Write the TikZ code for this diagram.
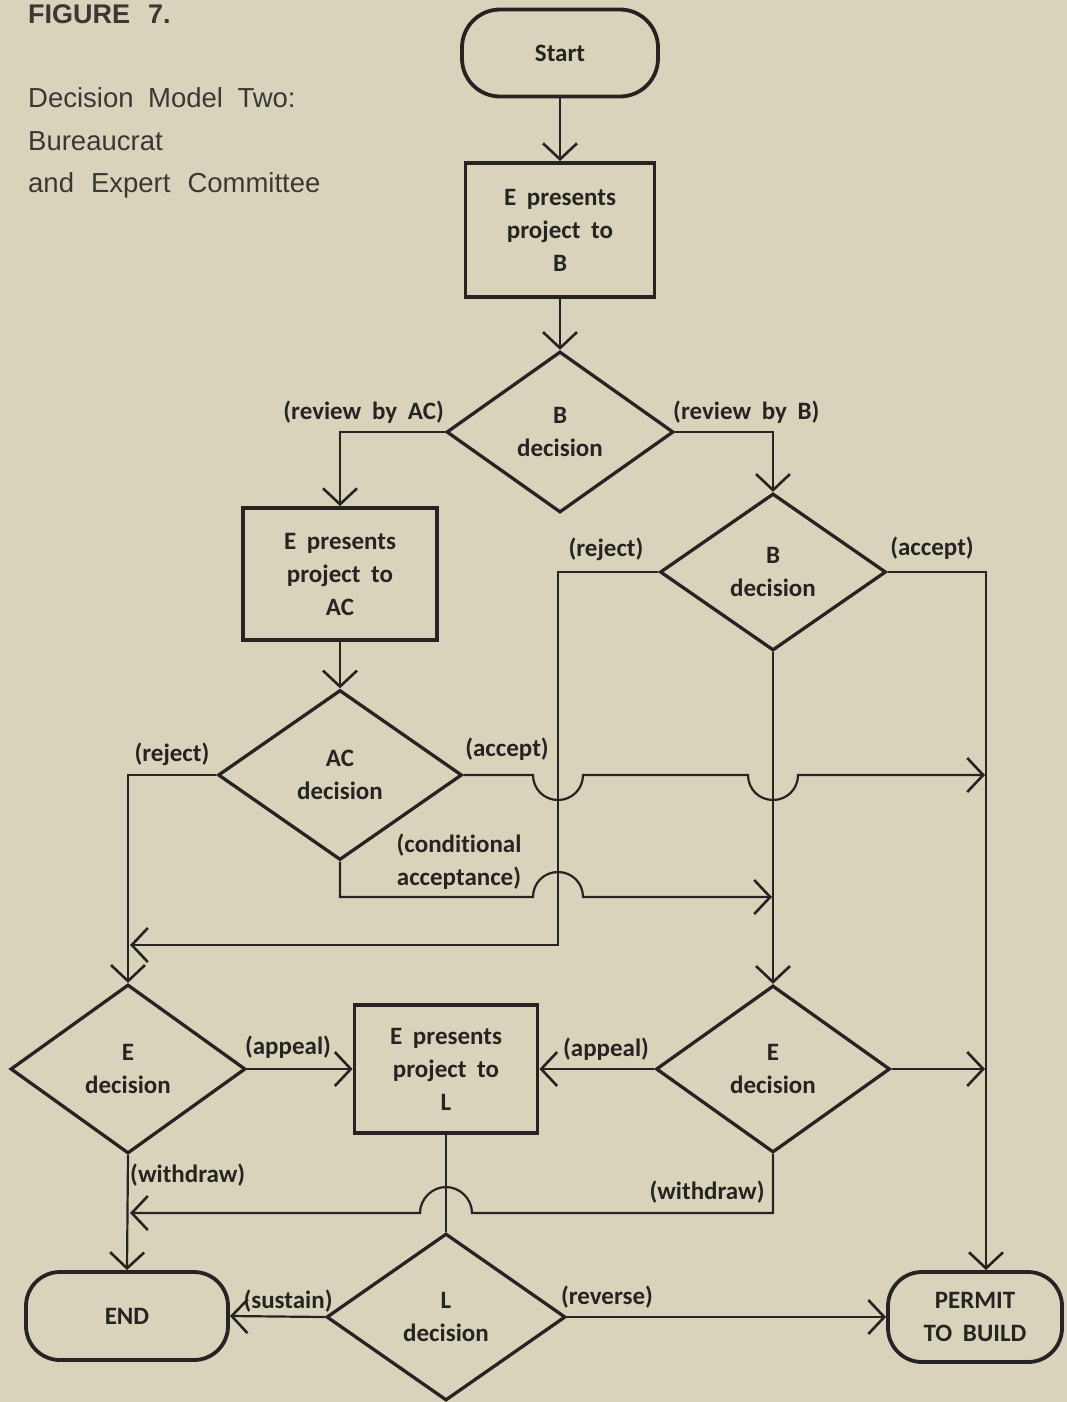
\documentclass[tikz,border=0pt]{standalone}
\usepackage{fontspec}
\newfontfamily\diagfont[WordSpace=1.9,Ligatures=NoCommon]{Carlito}
\newfontfamily\titlefont[WordSpace=1.9]{Liberation Sans}
\usetikzlibrary{shapes.geometric,arrows.meta}
\definecolor{paper}{RGB}{218,211,187}
\definecolor{ink}{RGB}{38,36,34}
\definecolor{titleink}{RGB}{58,56,52}
\begin{document}
\begin{tikzpicture}[x=1pt,y=-1pt,
  dfont/.style={font=\diagfont\bfseries\fontsize{25}{33}\selectfont},
  shapebox/.style={draw=ink, text=ink, line width=3.8pt, rectangle, inner sep=0pt, align=center, dfont},
  term/.style={shapebox, rounded corners=38pt},
  dec/.style={draw=ink, text=ink, line width=3.3pt, diamond, aspect=1.4, inner sep=0pt, align=center, dfont},
  lbl/.style={text=ink, inner sep=0pt, align=center, dfont},
  ttl/.style={text=titleink, inner sep=0pt, anchor=base west},
  conn/.style={draw=ink, line width=2.2pt},
  arr/.style={conn, -{Straight Barb[length=16pt,width=34pt,line width=2.6pt]}},
]
\useasboundingbox (0,0) rectangle (1067,1402);
\fill[paper] (0,0) rectangle (1067,1402);

% title
\node[ttl, font=\titlefont\bfseries\fontsize{27}{30}\selectfont] (fig) at (28,24) {FIGURE\hspace{18pt}7.};
\node[ttl, font=\titlefont\fontsize{27.5}{30}\selectfont] (t1) at (28,108) {Decision Model Two:};
\node[ttl, font=\titlefont\fontsize{27.5}{30}\selectfont] (t2) at (28,150) {Bureaucrat};
\node[ttl, font=\titlefont\fontsize{27.5}{30}\selectfont] (t3) at (28,192) {and\hspace{17pt}Expert\hspace{17pt}Committee};

% nodes
\node[term, minimum width=196pt, minimum height=87pt] (start) at (560,53) {Start};
\node[shapebox, minimum width=189pt, minimum height=134pt] (box1) at (560,230) {E presents\\project to\\B};
\node[dec, minimum width=227pt, minimum height=161pt] (d1) at (560,432) {B\\decision};
\node[shapebox, minimum width=194pt, minimum height=132pt] (box2) at (340,574) {E presents\\project to\\AC};
\node[dec, minimum width=226pt, minimum height=157pt] (d2) at (773,572) {B\\decision};
\node[dec, minimum width=244pt, minimum height=170pt] (d3) at (340,775) {AC\\decision};
\node[dec, minimum width=235pt, minimum height=169pt] (d4) at (128,1069) {E\\decision};
\node[shapebox, minimum width=183pt, minimum height=128pt] (box3) at (446,1069) {E presents\\project to\\L};
\node[dec, minimum width=234pt, minimum height=167pt] (d5) at (773,1069) {E\\decision};
\node[dec, minimum width=239pt, minimum height=167pt] (d6) at (446,1317) {L\\decision};
\node[term, minimum width=202pt, minimum height=88pt, rounded corners=34pt] (end) at (127,1316) {END};
\node[term, minimum width=174pt, minimum height=90pt, rounded corners=34pt] (permit) at (975,1317) {PERMIT\\TO BUILD};

% helper coordinates
\coordinate (accEnd) at (985,775);
\coordinate (condEnd) at (772,897);
\coordinate (rejEnd) at (130,945);
\coordinate (acc2) at (986,572);
\coordinate (e5End) at (985,1069);
\coordinate (wdEnd) at (130,1213);

% connectors
\draw[arr] (start.south) -- (box1.north);
\draw[arr] (box1.south) -- (d1.north);
\draw[arr] (d1.west) -| (box2.north);
\draw[arr] (d1.east) -| (d2.north);
\draw[arr] (box2.south) -- (d3.north);
\draw[arr] (d3.west) -| (d4.north);
\draw[arr] (d3.east) -- (533,775)
  .. controls (533,789) and (544,800) .. (558,800)
  .. controls (572,800) and (583,789) .. (583,775)
  -- (748,775)
  .. controls (748,789) and (759,800) .. (773,800)
  .. controls (787,800) and (798,789) .. (798,775)
  -- (accEnd);
\draw[arr] (d3.south) |- (533,897)
  .. controls (533,883) and (544,872) .. (558,872)
  .. controls (572,872) and (583,883) .. (583,897)
  -- (condEnd);
\draw[arr] (d2.west) -| (558,945) -- (rejEnd);
\draw[arr] (d2.east) -- (acc2) -- (acc2 |- permit.north);
\draw[arr] (d2.south) -- (d5.north);
\draw[arr] (d4.east) -- (box3.west);
\draw[arr] (d5.west) -- (box3.east);
\draw[arr] (d5.east) -- (e5End);
\draw[arr] (d5.south) |- (472,1213)
  .. controls (472,1199) and (460,1187) .. (446,1187)
  .. controls (432,1187) and (420,1199) .. (420,1213)
  -- (wdEnd);
\draw[arr] (d4.south) -- (end.north);
\draw[conn] (box3.south) -- (d6.north);
\draw[arr] (d6.west) -- (end.east);
\draw[arr] (d6.east) -- (permit.west);

% labels
\node[lbl, anchor=east] (l1) at (444,412) {(review by AC)};
\node[lbl, anchor=west] (l2) at (673,412) {(review by B)};
\node[lbl] (l3) at (606,549) {(reject)};
\node[lbl] (l4) at (932,548) {(accept)};
\node[lbl] (l5) at (172,754) {(reject)};
\node[lbl] (l6) at (507,749) {(accept)};
\node[lbl] (l7) at (459,862) {(conditional\\acceptance)};
\node[lbl] (l8) at (288,1047) {(appeal)};
\node[lbl] (l9) at (606,1049) {(appeal)};
\node[lbl, anchor=west] (l10) at (130,1175) {(withdraw)};
\node[lbl] (l11) at (707,1192) {(withdraw)};
\node[lbl] (l12) at (288,1301) {(sustain)};
\node[lbl] (l13) at (607,1297) {(reverse)};
\end{tikzpicture}
\end{document}
